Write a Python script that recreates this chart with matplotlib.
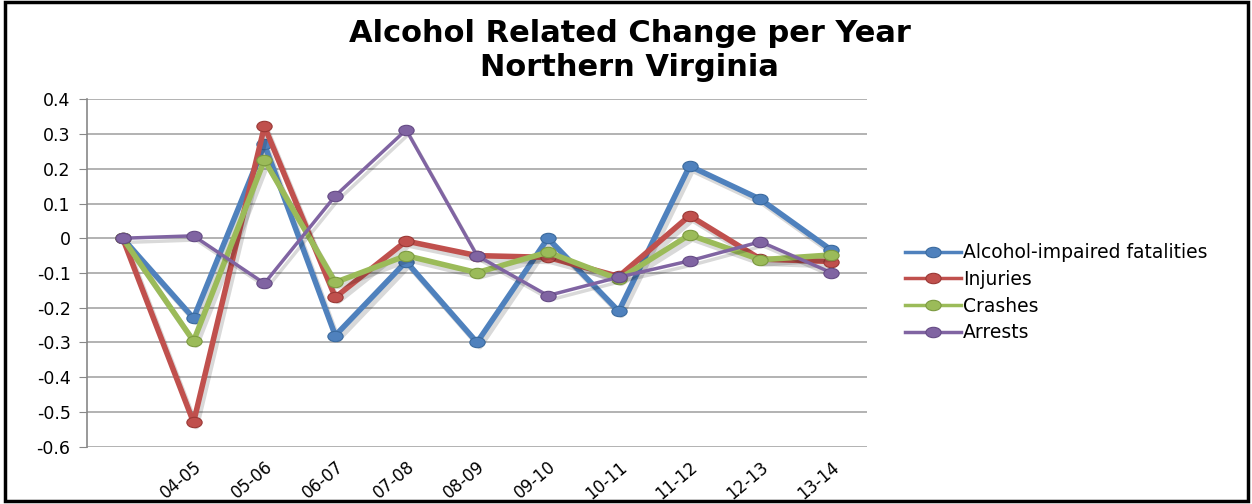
import matplotlib
matplotlib.use('Agg')
import matplotlib.pyplot as plt
import matplotlib.patheffects as pe
from matplotlib.path import Path
from matplotlib.patches import Rectangle
from matplotlib.lines import Line2D
import numpy as np

# categories: first one has no label on the axis
periods = ['', '04-05', '05-06', '06-07', '07-08', '08-09', '09-10',
           '10-11', '11-12', '12-13', '13-14']

fatalities = [0.0, -0.23, 0.27, -0.28, -0.067, -0.30, 0.0, -0.21, 0.208, 0.112, -0.034]
injuries = [0.0, -0.53, 0.322, -0.17, -0.008, -0.05, -0.055, -0.11, 0.065, -0.06, -0.067]
crashes = [0.0, -0.296, 0.225, -0.127, -0.05, -0.099, -0.04, -0.118, 0.01, -0.062, -0.048]
arrests = [0.0, 0.007, -0.13, 0.122, 0.312, -0.05, -0.165, -0.112, -0.065, -0.01, -0.099]

series = [('Alcohol-impaired fatalities', fatalities, '#4F81BD', '#3A6A9E', 4.0),
          ('Injuries', injuries, '#C0504D', '#9A3835', 4.0),
          ('Crashes', crashes, '#9BBB59', '#7C9A40', 4.0),
          ('Arrests', arrests, '#8064A2', '#654B85', 2.5)]

# flattened circle used as the "bead" marker
circ = Path.unit_circle()
bead = Path(circ.vertices * np.array([1.0, 0.68]), circ.codes)

fig = plt.figure(figsize=(12.52, 5.04), dpi=100)
ax = fig.add_axes([0.0697, 0.1137, 0.6226, 0.6893])

x = np.arange(len(periods))
handles = []
z = 2
for name, vals, col, edge, lw in series:
    ax.plot(x, vals, color=col, lw=lw, solid_joinstyle='round', solid_capstyle='round',
            zorder=z,
            path_effects=[pe.SimpleLineShadow(offset=(2, -3), alpha=0.15), pe.Normal()])
    ax.plot(x, vals, ls='none', marker=bead, markersize=11, markerfacecolor=col,
            markeredgecolor=edge, markeredgewidth=0.8, zorder=z + 0.5)
    handles.append(Line2D([], [], color=col, lw=2.5, marker=bead, markersize=11,
                          markerfacecolor=col, markeredgecolor=edge, markeredgewidth=0.8))
    z += 1

ax.set_xlim(-0.5, len(periods) - 0.5)
ax.set_ylim(-0.6, 0.4)
ax.set_yticks(np.arange(-0.6, 0.41, 0.1))
ax.set_yticklabels(['-0.6', '-0.5', '-0.4', '-0.3', '-0.2', '-0.1', '0',
                    '0.1', '0.2', '0.3', '0.4'], fontsize=12.5)
ax.set_xticks(x)
ax.set_xticklabels(periods, rotation=40, ha='right', va='top',
                   rotation_mode='anchor', fontsize=12)
ax.tick_params(axis='x', length=0, pad=8)
ax.tick_params(axis='y', length=6, color='#888888', pad=6)

ax.grid(axis='y', color='#A6A6A6', lw=1.2)
ax.set_axisbelow(True)
for s in ['top', 'right', 'bottom']:
    ax.spines[s].set_visible(False)
ax.spines['left'].set_color('#888888')
ax.spines['left'].set_linewidth(1.2)

fig.text(0.503, 0.933, 'Alcohol Related Change per Year', ha='center', va='center',
         fontsize=22, fontweight='bold')
fig.text(0.503, 0.866, 'Northern Virginia', ha='center', va='center',
         fontsize=22, fontweight='bold')

ax.legend(handles, [s[0] for s in series], loc='upper left',
          bbox_to_anchor=(0.717, 0.532), bbox_transform=fig.transFigure,
          frameon=False, fontsize=13.5, handlelength=3.0, handletextpad=0.1,
          labelspacing=0.41, borderaxespad=0)

# outer frame
fig.patches.append(Rectangle((0.004, 0.006), 0.993, 0.99, transform=fig.transFigure,
                             fill=False, edgecolor='black', lw=2.5))

fig.savefig('out.png', dpi=100)
